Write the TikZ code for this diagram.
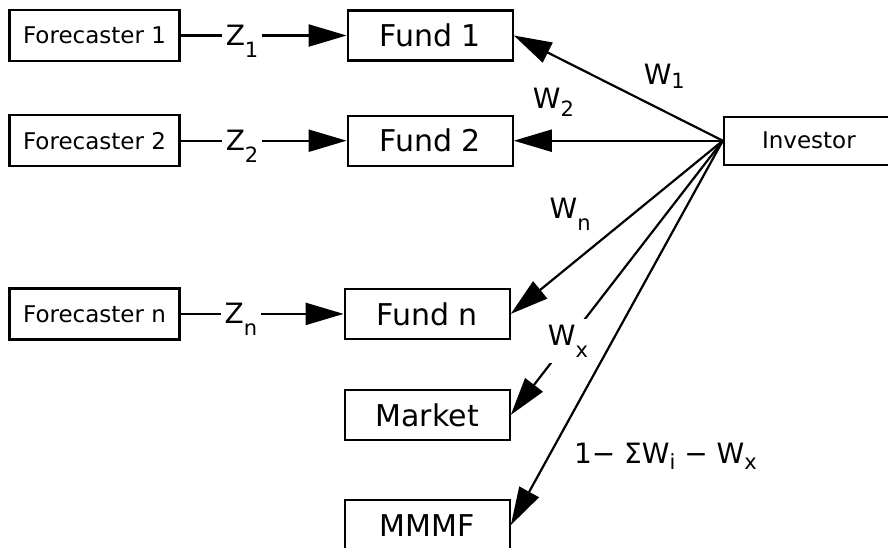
\documentclass[tikz,border=0pt]{standalone}
\usepackage{fontspec}
\setmainfont{DejaVu Sans}
\usetikzlibrary{arrows.meta,positioning}
\newcommand{\lowidx}[2][6pt]{\raisebox{-#1}{\fontsize{10.5}{12}\selectfont #2}}
\tikzset{
  source/.style={draw,line width=1.1pt,minimum width=85pt,minimum height=25.5pt,
    font=\fontsize{11.5}{13}\selectfont},
  fund/.style={draw,line width=1.1pt,minimum width=82.5pt,minimum height=25pt,
    font=\fontsize{15}{18}\selectfont},
  agent/.style={draw,line width=1.1pt,minimum width=85pt,minimum height=24pt,
    font=\fontsize{11.5}{14}\selectfont},
  arrow/.style={-{Triangle[length=19pt,width=11pt]},line width=1.1pt},
  weight/.style={font=\fontsize{14}{17}\selectfont,inner sep=0pt}
}

\begin{document}
\begin{tikzpicture}[node distance=26pt and 83pt]
  \path[use as bounding box,clip] (0,0) rectangle (444pt,-273.5pt);
  \node[source] (fc1) at (47.25pt,-17.75pt) {Forecaster 1};
  \node[fund,right=of fc1] (fund1) {Fund 1};
  \node[source,below=of fc1] (fc2) {Forecaster 2};
  \node[fund,right=of fc2] (fund2) {Fund 2};
  \node[source,below=60pt of fc2] (fcn) {Forecaster n};
  \node[fund,right=81.5pt of fcn] (fundn) {Fund n};
  \node[fund,below=24.4pt of fundn] (market) {Market};
  \node[fund,below=29pt of market] (mmmf) {MMMF};
  \node[agent,right=104.5pt of fund2] (inv) {Investor};
  % forecasts into the funds
  \draw[arrow] (fc1.east) -- node[weight,pos=.37,anchor=base,yshift=-5pt,
    fill=white,inner xsep=2pt]{Z\lowidx{1}} (fund1.west);
  \draw[arrow] (fc2.east) -- node[weight,pos=.37,anchor=base,yshift=-5pt,
    fill=white,inner xsep=2pt]{Z\lowidx{2}} (fund2.west);
  \draw[arrow] (fcn.east) -- node[weight,pos=.37,anchor=base,yshift=-5pt,
    fill=white,inner xsep=2pt]{Z\lowidx{n}} (fundn.west);
  % investor weights
  \draw[arrow] (inv.west) -- node[weight,pos=.28,above=11pt]{W\lowidx[2pt]{1}} (fund1.east);
  \draw[arrow] (inv.west) -- node[weight,pos=.81,above=11.5pt]{W\lowidx[4pt]{2}} (fund2.east);
  \draw[arrow] (inv.west) -- node[weight,pos=.72,above=17pt]{W\lowidx{n}} (fundn.east);
  \draw[arrow] (inv.west) -- node[weight,pos=.73,fill=white,inner sep=3pt]{W\lowidx{x}} (market.east);
  \draw[arrow] (inv.west) -- node[weight,pos=.82,right=12pt]{1− ΣW\lowidx[3pt]{i} − W\lowidx[3pt]{x}} (mmmf.east);
\end{tikzpicture}
\end{document}
